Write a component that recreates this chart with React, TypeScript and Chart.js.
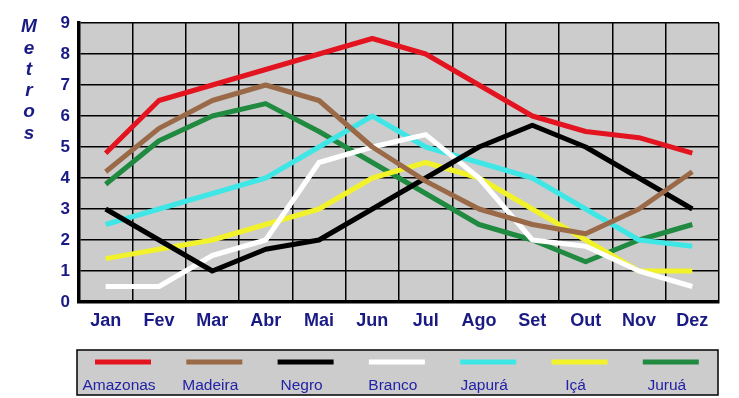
import React, { useEffect, useRef } from "react";
import { Chart, registerables } from "chart.js";

Chart.register(...registerables);

const months = ["Jan", "Fev", "Mar", "Abr", "Mai", "Jun", "Jul", "Ago", "Set", "Out", "Nov", "Dez"];
const yTicks = [0, 1, 2, 3, 4, 5, 6, 7, 8, 9];
const yTitleLetters = ["M", "e", "t", "r", "o", "s"];

const amazonas = [4.8, 6.5, 7.0, 7.5, 8.0, 8.5, 8.0, 7.0, 6.0, 5.5, 5.3, 4.8];
const madeira = [4.2, 5.6, 6.5, 7.0, 6.5, 5.0, 3.9, 3.0, 2.5, 2.2, 3.0, 4.2];
const negro = [3.0, 2.0, 1.0, 1.7, 2.0, 3.0, 4.0, 5.0, 5.7, 5.0, 4.0, 3.0];
const branco = [0.5, 0.5, 1.5, 2.0, 4.5, 5.0, 5.4, 4.0, 2.0, 1.8, 1.0, 0.5];
const japura = [2.5, 3.0, 3.5, 4.0, 5.0, 6.0, 5.0, 4.5, 4.0, 3.0, 2.0, 1.8];
const ica = [1.4, 1.7, 2.0, 2.5, 3.0, 4.0, 4.5, 4.0, 3.0, 2.0, 1.0, 1.0];
const jurua = [3.8, 5.2, 6.0, 6.4, 5.5, 4.5, 3.5, 2.5, 2.0, 1.3, 2.0, 2.5];

const seriesNames = ["Amazonas", "Madeira", "Negro", "Branco", "Japurá", "Içá", "Juruá"];
const seriesValues = [amazonas, madeira, negro, branco, japura, ica, jurua];
const seriesColors = ["#e3141f", "#9a6a48", "#000000", "#ffffff", "#3ee6e6", "#f2f22a", "#1f8a40"];

const FONT = "Arial, 'Liberation Sans', sans-serif";
const NAVY = "#1a1a84";
const LEGEND_BLUE = "#2222a6";

const bgPlugin = {
  id: "plotBg",
  beforeDraw(chart: any) {
    const { ctx, chartArea } = chart;
    ctx.save();
    ctx.fillStyle = "#cccccc";
    ctx.fillRect(chartArea.left, chartArea.top, chartArea.right - chartArea.left, chartArea.bottom - chartArea.top);
    ctx.restore();
  },
};

const extrasPlugin = {
  id: "extras",
  afterDraw(chart: any) {
    const { ctx, chartArea } = chart;
    ctx.save();
    // vertical axis title letters
    ctx.fillStyle = NAVY;
    ctx.font = `italic bold 19px ${FONT}`;
    ctx.textAlign = "center";
    ctx.textBaseline = "middle";
    yTitleLetters.forEach((ch, i) => {
      ctx.fillText(ch, 29, 27 + i * 21.3);
    });

    // legend box
    const lx = chartArea.left - 2;
    const ly = 350;
    const lw = chartArea.right - 1 - lx;
    const lh = 45;
    ctx.fillStyle = "#cccccc";
    ctx.fillRect(lx, ly, lw, lh);
    ctx.strokeStyle = "#000000";
    ctx.lineWidth = 1.5;
    ctx.strokeRect(lx, ly, lw, lh);

    const step = 91.3;
    const first = 123;
    ctx.font = `15.5px ${FONT}`;
    chart.data.datasets.forEach((ds: any, i: number) => {
      const cx = first + i * step;
      ctx.strokeStyle = ds.borderColor;
      ctx.lineWidth = 5;
      ctx.lineCap = "butt";
      ctx.beginPath();
      ctx.moveTo(cx - 28, 362);
      ctx.lineTo(cx + 28, 362);
      ctx.stroke();
      ctx.fillStyle = LEGEND_BLUE;
      ctx.textAlign = "center";
      ctx.textBaseline = "alphabetic";
      ctx.fillText(ds.label, cx - 4, 390);
    });
    ctx.restore();
  },
};

export default function App() {
  const canvasRef = useRef<HTMLCanvasElement | null>(null);

  useEffect(() => {
    if (!canvasRef.current) return;
    const chart = new Chart(canvasRef.current, {
      type: "line",
      data: {
        labels: months,
        datasets: seriesNames.map((name, i) => ({
          label: name,
          data: seriesValues[i],
          borderColor: seriesColors[i],
          backgroundColor: seriesColors[i],
          borderWidth: 5,
          pointRadius: 0,
          tension: 0,
          fill: false,
          borderJoinStyle: "round" as const,
        })),
      },
      options: {
        animation: false,
        responsive: true,
        maintainAspectRatio: false,
        layout: { padding: { left: 0, top: 23, right: 20, bottom: 0 } },
        plugins: {
          legend: { display: false },
          tooltip: { enabled: false },
          title: { display: false },
        },
        scales: {
          x: {
            offset: true,
            grid: { offset: true, color: "#000000", lineWidth: 1.5, drawTicks: false },
            border: { color: "#000000", width: 3.5 },
            ticks: {
              color: NAVY,
              font: { family: FONT, size: 18, weight: "bold" },
              padding: 8,
              maxRotation: 0,
            },
            afterFit: (s: any) => {
              s.height = 96;
            },
          },
          y: {
            min: 0,
            max: 9,
            afterBuildTicks: (s: any) => {
              s.ticks = yTicks.map((v) => ({ value: v }));
            },
            grid: { color: "#000000", lineWidth: 1.5, drawTicks: false },
            border: { color: "#000000", width: 3.5 },
            ticks: {
              color: NAVY,
              font: { family: FONT, size: 17, weight: "bold" },
              padding: 9,
            },
            afterFit: (s: any) => {
              s.width = 79;
            },
          },
        },
      },
      plugins: [bgPlugin, extrasPlugin],
    });
    return () => chart.destroy();
  }, []);

  return (
    <div style={{ position: "absolute", left: 0, top: 0, width: 739, height: 398, background: "#ffffff" }}>
      <canvas ref={canvasRef} />
    </div>
  );
}
